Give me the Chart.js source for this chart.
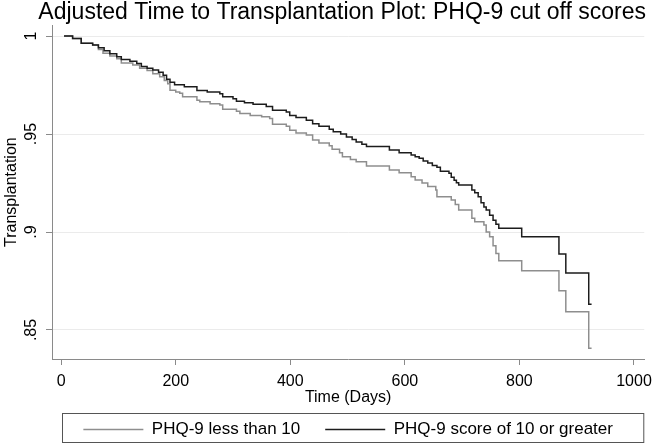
<!DOCTYPE html>
<html>
<head>
<meta charset="utf-8">
<script src="https://cdn.jsdelivr.net/npm/chart.js@4"></script>
<style>
  html, body { margin: 0; padding: 0; background: #fff; }
  #wrap { width: 659px; height: 448px; }
</style>
</head>
<body>
<div id="wrap"><canvas id="chart"></canvas></div>
<script>
// ticks of the two axes
var dayTicks = [0, 200, 400, 600, 800, 1000];
var survTicks = [0.85, 0.9, 0.95, 1];
var survLabels = ['.85', '.9', '.95', '1'];

// PHQ-9 less than 10 (grey curve), drop times and survival after the drop
var lowDays = [5, 20, 35, 55, 65, 73, 85, 97, 105, 125, 137, 150, 160, 172, 180, 186, 190, 200, 207, 212,
  237, 242, 260, 277, 282, 306, 312, 330, 350, 364, 369, 393, 399, 410, 428, 439, 450, 468, 473, 486,
  491, 505, 515, 533, 573, 590, 611, 618, 630, 640, 654, 656, 681, 688, 694, 717, 722, 738, 742, 748,
  754, 759, 764, 804, 869, 881, 921, 926];
var lowSurv = [1, .9988, .9963, .9954, .9932, .9912, .9898, .9884, .9862, .9852, .9836, .9824, .9808, .9793, .9773, .9757, .9724, .9715, .9708, .969,
  .9673, .9665, .9655, .9648, .9626, .9616, .9605, .9595, .9588, .958, .955, .954, .952, .9505, .9495, .947, .9454, .944, .9422, .9405,
  .9384, .937, .9359, .9337, .9316, .9303, .9282, .9265, .925, .9232, .9214, .918, .9163, .914, .9112, .907, .9053, .9036, .9, .8976,
  .893, .8891, .8854, .8803, .87, .8593, .8407, .8407];

// PHQ-9 score of 10 or greater (black curve)
var highDays = [5, 20, 35, 55, 65, 75, 85, 97, 105, 120, 132, 140, 150, 160, 170, 178, 184, 190, 198, 215,
  237, 255, 277, 282, 300, 306, 320, 335, 358, 369, 393, 399, 410, 428, 439, 450, 468, 475, 488, 498,
  508, 515, 525, 533, 573, 590, 611, 618, 625, 632, 640, 648, 656, 662, 677, 681, 686, 690, 694, 717,
  722, 728, 733, 738, 742, 748, 754, 759, 764, 804, 869, 881, 921, 926];
var highSurv = [1, .9988, .9963, .9954, .994, .9925, .991, .9894, .988, .9872, .986, .9845, .9836, .9827, .9815, .98, .978, .9765, .9752, .9742,
  .9722, .9714, .9706, .969, .968, .9668, .966, .9652, .964, .9622, .9612, .9595, .9585, .957, .9552, .954, .9525, .9512, .95, .9485,
  .9472, .946, .9448, .9436, .9418, .9405, .9393, .9384, .9376, .9362, .9352, .934, .933, .931, .93, .928, .9264, .9252, .924, .9215,
  .92, .918, .915, .9128, .9112, .9085, .906, .904, .9019, .8976, .8888, .8791, .8631, .8631];

function toPoints(days, surv) {
  return days.map(function (d, i) { return { x: d, y: surv[i] }; });
}

var FONT = '"Liberation Sans", Arial, sans-serif';
var AXIS = '#8a8a8a';

// trace un cadre autour de la légende
var legendFrame = {
  id: 'legendFrame',
  afterDraw: function (chart) {
    var lg = chart.legend;
    var ctx = chart.ctx;
    ctx.save();
    ctx.strokeStyle = '#555';
    ctx.lineWidth = 1;
    ctx.strokeRect(lg.left + 10.5, lg.top + 17.5, lg.width - 11, lg.height - 23);
    ctx.restore();
  }
};

var ctx = document.getElementById('chart').getContext('2d');
new Chart(ctx, {
  type: 'line',
  data: {
    datasets: [
      {
        label: 'PHQ-9 less than 10',
        data: toPoints(lowDays, lowSurv),
        borderColor: '#8e8e8e',
        backgroundColor: '#8e8e8e',
        borderWidth: 1.5,
        pointRadius: 0,
        pointStyle: 'line',
        stepped: true,
        order: 2
      },
      {
        label: 'PHQ-9 score of 10 or greater',
        data: toPoints(highDays, highSurv),
        borderColor: '#1c1c1c',
        backgroundColor: '#1c1c1c',
        borderWidth: 1.5,
        pointRadius: 0,
        pointStyle: 'line',
        stepped: true,
        order: 1
      }
    ]
  },
  options: {
    responsive: true,
    maintainAspectRatio: false,
    animation: false,
    devicePixelRatio: 1,
    layout: { padding: { left: 0, right: 13, top: 0, bottom: 0 } },
    scales: {
      x: {
        type: 'linear',
        min: -16,
        max: 1018,
        afterBuildTicks: function (scale) {
          scale.ticks = dayTicks.map(function (v) { return { value: v }; });
        },
        afterFit: function (scale) { scale.height = 37; },
        ticks: {
          font: { family: FONT, size: 16 },
          color: '#000',
          padding: 7,
          maxRotation: 0,
          autoSkip: false,
          callback: function (value) { return String(value); }
        },
        grid: { drawOnChartArea: false, tickLength: 6, tickColor: AXIS },
        border: { color: AXIS, width: 1 },
        title: {
          display: true,
          text: 'Time (Days)',
          font: { family: FONT, size: 16 },
          color: '#000',
          padding: { top: 0, bottom: -11.6 }
        }
      },
      y: {
        type: 'linear',
        min: 0.8352,
        max: 1.0055,
        afterBuildTicks: function (scale) {
          scale.ticks = survTicks.map(function (v) { return { value: v }; });
        },
        afterFit: function (scale) { scale.width = 52; },
        ticks: {
          font: { family: FONT, size: 16 },
          color: '#000',
          minRotation: 90,
          maxRotation: 90,
          crossAlign: 'center',
          padding: 3,
          autoSkip: false,
          callback: function (value) {
            var i = survTicks.indexOf(value);
            return i >= 0 ? survLabels[i] : '';
          }
        },
        grid: { color: '#ebebeb', lineWidth: 1, tickLength: 6, tickColor: AXIS },
        border: { color: AXIS, width: 1 },
        title: {
          display: true,
          text: 'Transplantation',
          font: { family: FONT, size: 16 },
          color: '#000',
          padding: { top: 2, bottom: 0 }
        }
      }
    },
    plugins: {
      title: {
        display: true,
        align: 'end',
        text: 'Adjusted Time to Transplantation Plot: PHQ-9 cut off scores',
        font: { family: FONT, size: 23, weight: 'normal', lineHeight: 1.1 },
        color: '#000',
        padding: { top: 0, bottom: 0 }
      },
      legend: {
        position: 'bottom',
        fullSize: false,
        labels: {
          usePointStyle: true,
          pointStyleWidth: 60,
          padding: 25,
          color: '#000',
          font: { family: FONT, size: 17 },
          sort: function (a, b) { return a.datasetIndex - b.datasetIndex; }
        }
      },
      tooltip: { enabled: false }
    }
  },
  plugins: [legendFrame]
});
</script>
</body>
</html>
